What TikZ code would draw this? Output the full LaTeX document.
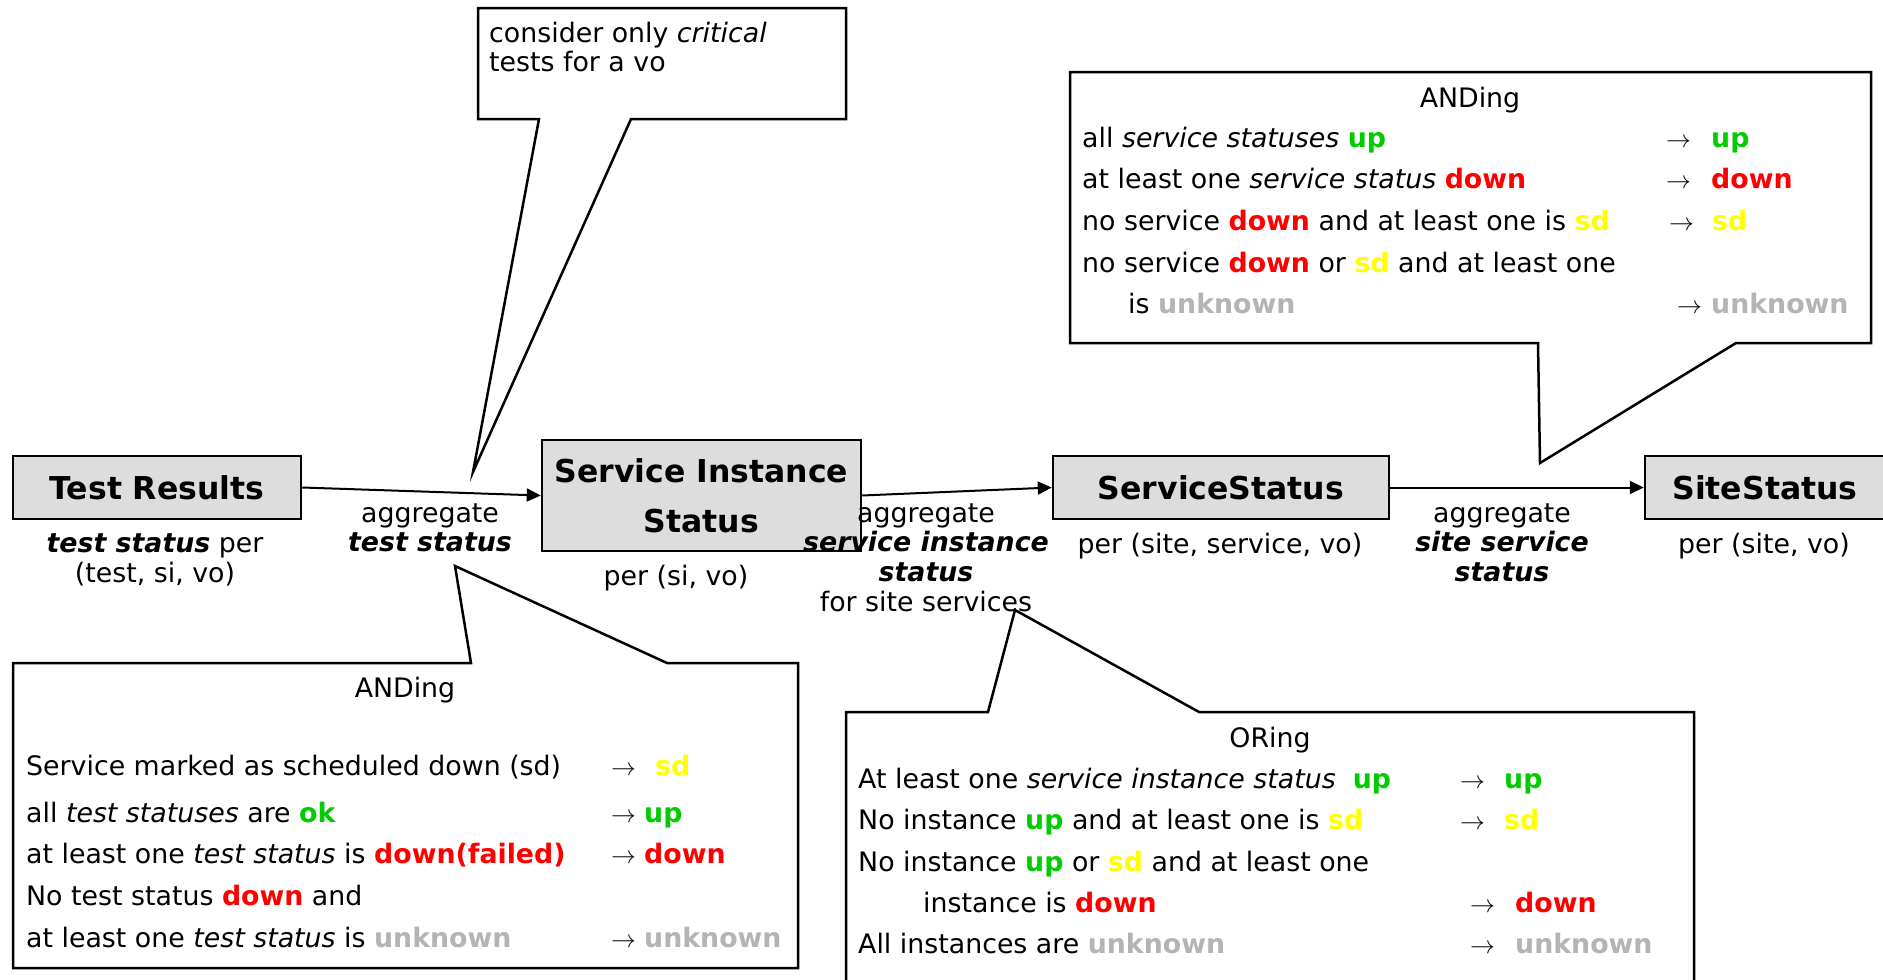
\documentclass[tikz,border=0pt]{standalone}
\usepackage{fontspec}
\setmainfont{DejaVu Sans}
\usetikzlibrary{arrows.meta}
\definecolor{cup}{RGB}{0,204,0}
\definecolor{cdown}{RGB}{255,0,0}
\definecolor{csd}{RGB}{255,255,0}
\definecolor{cunk}{RGB}{180,180,180}
\definecolor{boxgray}{RGB}{221,221,221}
\newcommand\stUp{\textcolor{cup}{\bfseries up}}
\newcommand\stDown{\textcolor{cdown}{\bfseries down}}
\newcommand\stSd{\textcolor{csd}{\bfseries sd}}
\newcommand\stUnk{\textcolor{cunk}{\bfseries unknown}}
\newcommand\bitx[1]{\textbf{\textit{#1}}}
\newcommand\rarr{$\rightarrow$}
\begin{document}
\begin{tikzpicture}[x=1pt,y=-1pt,
  every node/.style={inner sep=0pt, font=\fontsize{26.8}{29}\selectfont},
  statebox/.style={draw, line width=2.5pt, fill=boxgray, font=\fontsize{31.5}{50}\selectfont\bfseries, align=center},
  conn/.style={line width=2pt, -{Triangle[length=14pt,width=13pt]}},
  callout/.style={draw, line width=2.5pt, line join=miter, fill=white},
  txt/.style={anchor=base west},
  ctr/.style={anchor=base}]
\clip (0,0) rectangle (1883,980);
\fill[white] (0,0) rectangle (1883,980);

% state boxes
\node[statebox, minimum width=288pt, minimum height=63pt] (tr) at (157,487.5) {Test Results};
\node[statebox, minimum width=319pt, minimum height=111pt] (sis) at (701.5,495.5) {Service Instance\\Status};
\node[statebox, minimum width=336pt, minimum height=63pt] (ss) at (1221,487.5) {ServiceStatus};
\node[statebox, minimum width=240pt, minimum height=63pt] (site) at (1765,487.5) {SiteStatus};

% connectors
\draw[conn] (tr.east) -- (sis.west);
\draw[conn] (sis.east) -- (ss.west);
\draw[conn] (ss.east) -- (site.west);

% labels on connectors
\node[ctr] (l1a) at (430,522) {aggregate};
\node[ctr] (l1b) at (430,551) {\bitx{test status}};
\node[ctr] (l2a) at (926,522) {aggregate};
\node[ctr] (l2b) at (926,551) {\bitx{service instance}};
\node[ctr] (l2c) at (926,581) {\bitx{status}};
\node[ctr] (l2d) at (926,611) {for site services};
\node[ctr] (l3a) at (1502,522) {aggregate};
\node[ctr] (l3b) at (1502,551) {\bitx{site service}};
\node[ctr] (l3c) at (1502,581) {\bitx{status}};

% labels under boxes
\node[ctr] (s1a) at (155,552) {\bitx{test status} per};
\node[ctr] (s1b) at (155,582) {(test, si, vo)};
\node[ctr] (s2) at (676,585) {per (si, vo)};
\node[ctr] (s3) at (1220,553) {per (site, service, vo)};
\node[ctr] (s4) at (1764,553) {per (site, vo)};

% callout: critical tests
\coordinate (tipA) at (473,472);
\draw[callout] (478,8) -- (846,8) -- (846,119) -- (631,119) -- (tipA) -- (539,119) -- (478,119) -- cycle;
\node[txt] (ca1) at (489,42) {consider only \textit{critical}};
\node[txt] (ca2) at (489,71) {tests for a vo};

% callout: ANDing (site)
\coordinate (tipB) at (1540,463);
\draw[callout] (1070,72) -- (1871,72) -- (1871,343) -- (1736,343) -- (tipB) -- (1538,343) -- (1070,343) -- cycle;
\node[ctr] (rh) at (1470,107) {ANDing};
\node[txt] (r1) at (1082,147) {all \textit{service statuses} \stUp};
\node[txt] (r1a) at (1666,147) {\rarr};
\node[txt] (r1r) at (1711,147) {\stUp};
\node[txt] (r2) at (1082,188) {at least one \textit{service status} \stDown};
\node[txt] (r2a) at (1666,188) {\rarr};
\node[txt] (r2r) at (1711,188) {\stDown};
\node[txt] (r3) at (1082,230) {no service \stDown{} and at least one is \stSd};
\node[txt] (r3a) at (1669,230) {\rarr};
\node[txt] (r3r) at (1712,230) {\stSd};
\node[txt] (r4) at (1082,272) {no service \stDown{} or \stSd{} and at least one};
\node[txt] (r5) at (1128,313) {is \stUnk};
\node[txt] (r5a) at (1677,313) {\rarr};
\node[txt] (r5r) at (1711,313) {\stUnk};

% callout: ANDing (tests)
\coordinate (tipC) at (455,566);
\draw[callout] (13,663) -- (471,663) -- (tipC) -- (667,663) -- (798,663) -- (798,968) -- (13,968) -- cycle;
\node[ctr] (bh) at (405,697) {ANDing};
\node[txt] (b1) at (26,775) {Service marked as scheduled down (sd)};
\node[txt] (b1a) at (611,775) {\rarr};
\node[txt] (b1r) at (655,775) {\stSd};
\node[txt] (b2) at (26,822) {all \textit{test statuses} are \textcolor{cup}{\bfseries ok}};
\node[txt] (b2a) at (611,822) {\rarr};
\node[txt] (b2r) at (644,822) {\stUp};
\node[txt] (b3) at (26,863) {at least one \textit{test status} is \textcolor{cdown}{\bfseries down(failed)}};
\node[txt] (b3a) at (611,863) {\rarr};
\node[txt] (b3r) at (644,863) {\stDown};
\node[txt] (b4) at (26,905) {No test status \stDown{} and};
\node[txt] (b5) at (26,947) {at least one \textit{test status} is \stUnk};
\node[txt] (b5a) at (611,947) {\rarr};
\node[txt] (b5r) at (644,947) {\stUnk};

% callout: ORing
\coordinate (tipD) at (1015,610);
\draw[callout] (846,712) -- (988,712) -- (tipD) -- (1199,712) -- (1694,712) -- (1694,995) -- (846,995) -- cycle;
\node[ctr] (oh) at (1270,747) {ORing};
\node[txt] (o1) at (858,788) {At least one \textit{service instance status}\ \ \stUp};
\node[txt] (o1a) at (1460,788) {\rarr};
\node[txt] (o1r) at (1504,788) {\stUp};
\node[txt] (o2) at (858,829) {No instance \stUp{} and at least one is \stSd};
\node[txt] (o2a) at (1460,829) {\rarr};
\node[txt] (o2r) at (1504,829) {\stSd};
\node[txt] (o3) at (858,871) {No instance \stUp{} or \stSd{} and at least one};
\node[txt] (o4) at (923,912) {instance is \stDown};
\node[txt] (o4a) at (1470,912) {\rarr};
\node[txt] (o4r) at (1515,912) {\stDown};
\node[txt] (o5) at (858,953) {All instances are \stUnk};
\node[txt] (o5a) at (1470,953) {\rarr};
\node[txt] (o5r) at (1515,953) {\stUnk};
\end{tikzpicture}
\end{document}
